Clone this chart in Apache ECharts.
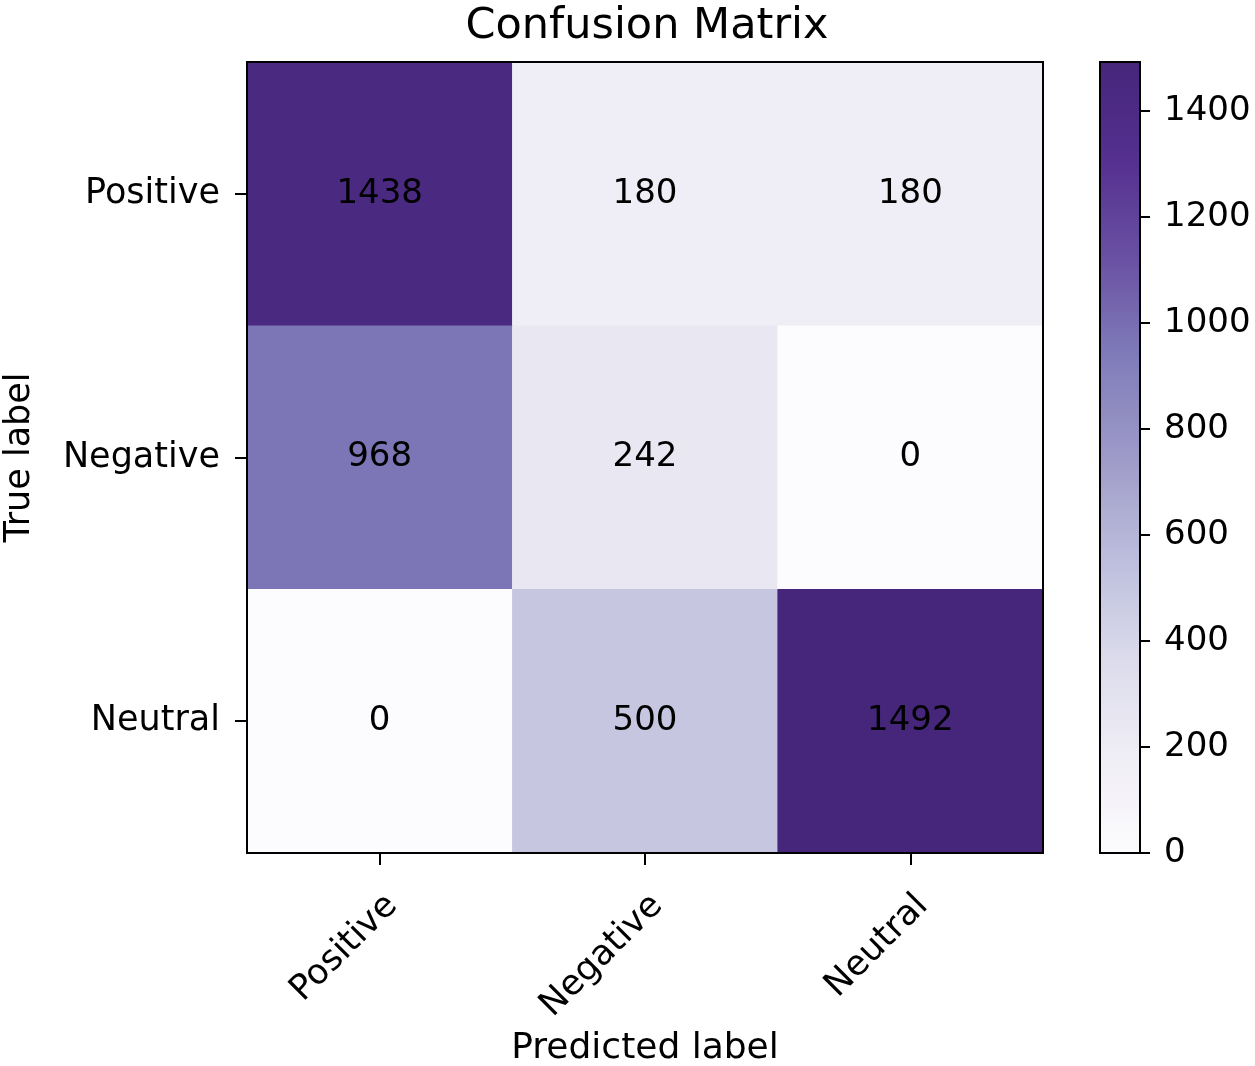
<!DOCTYPE html>
<html>
<head>
<meta charset="utf-8">
<script src="https://cdn.jsdelivr.net/npm/echarts@6/dist/echarts.min.js"></script>
<style>
html,body{margin:0;padding:0;background:#fff;}
#chart{width:1255px;height:1066px;}
</style>
</head>
<body>
<div id="chart"></div>
<script>
// Data
const predictedLabels = ['Positive', 'Negative', 'Neutral'];
const trueLabels = ['Positive', 'Negative', 'Neutral'];
const rowPositive = [1438, 180, 180];
const rowNegative = [968, 242, 0];
const rowNeutral = [0, 500, 1492];
const colorbarTicks = [0, 200, 400, 600, 800, 1000, 1200, 1400];
const colorMin = 0;
const colorMax = 1492;

const rows = [rowPositive, rowNegative, rowNeutral];
const cells = [];
rows.forEach((row, yi) => row.forEach((v, xi) => cells.push([xi, yi, v])));

const FONT = 'DejaVu Sans';
const purples = ['#fcfbfd', '#efedf5', '#dadaeb', '#bcbddc', '#9e9ac8', '#807dba', '#6a51a3', '#553090', '#45267a'];

const chart = echarts.init(document.getElementById('chart'), null, {renderer: 'canvas'});
chart.setOption({
  animation: false,
  backgroundColor: '#fff',
  title: {
    text: 'Confusion Matrix',
    left: 642, textAlign: 'center', top: 0,
    textStyle: {fontFamily: FONT, fontSize: 43, fontWeight: 'normal', color: '#000'}
  },
  grid: [
    {left: 247, top: 62, width: 796, height: 791, show: true, borderColor: '#000', borderWidth: 2, backgroundColor: 'transparent', z: 5, outerBoundsMode: 'none', containLabel: false},
    {left: 1100, top: 62, width: 40, height: 791, show: true, borderColor: '#000', borderWidth: 2, backgroundColor: 'transparent', z: 10, outerBoundsMode: 'none', containLabel: false}
  ],
  xAxis: [
    {
      type: 'category', gridIndex: 0, data: predictedLabels, position: 'bottom',
      name: 'Predicted label', nameLocation: 'middle', nameGap: 178,
      nameTextStyle: {fontFamily: FONT, fontSize: 36, color: '#000'},
      axisLine: {show: true, lineStyle: {color: '#000', width: 2}},
      axisTick: {show: true, alignWithLabel: true, length: 12, lineStyle: {color: '#000', width: 2}},
      axisLabel: {rotate: 45, fontFamily: FONT, fontSize: 35, color: '#000', margin: 35, verticalAlign: 'top'},
      splitArea: {show: false}, splitLine: {show: false}, z: 6
    },
    {
      type: 'value', gridIndex: 1, min: 0, max: 1,
      axisLine: {show: false}, axisTick: {show: false}, axisLabel: {show: false}, splitLine: {show: false}
    }
  ],
  yAxis: [
    {
      type: 'category', gridIndex: 0, data: trueLabels, inverse: true,
      name: 'True label', nameLocation: 'middle', nameGap: 210, nameRotate: 90,
      nameTextStyle: {fontFamily: FONT, fontSize: 35, color: '#000'},
      axisLine: {show: true, lineStyle: {color: '#000', width: 2}},
      axisTick: {show: true, alignWithLabel: true, length: 12, lineStyle: {color: '#000', width: 2}},
      axisLabel: {fontFamily: FONT, fontSize: 35, color: '#000', margin: 27},
      splitArea: {show: false}, splitLine: {show: false}, z: 6
    },
    {
      type: 'value', gridIndex: 1, position: 'right', min: colorMin, max: colorMax,
      interval: 200,
      axisLine: {show: true, onZero: false, lineStyle: {color: '#000', width: 2}},
      axisTick: {show: true, inside: false, length: 10, customValues: colorbarTicks, lineStyle: {color: '#000', width: 2}},
      axisLabel: {
        fontFamily: FONT, fontSize: 34, color: '#000', margin: 24,
        customValues: colorbarTicks,
        formatter: v => String(v)
      },
      splitLine: {show: false}, z: 11
    }
  ],
  visualMap: {
    type: 'continuous', min: colorMin, max: colorMax, seriesIndex: 0,
    orient: 'vertical', left: 1100, top: 62, itemWidth: 40, itemHeight: 791,
    padding: 0, calculable: false, text: null, hoverLink: false,
    inRange: {color: purples}
  },
  series: [
    {
      type: 'heatmap', xAxisIndex: 0, yAxisIndex: 0, data: cells,
      label: {show: true, fontFamily: FONT, fontSize: 34, color: '#000'},
      itemStyle: {borderWidth: 0},
      emphasis: {disabled: true}
    }
  ]
});
</script>
</body>
</html>
